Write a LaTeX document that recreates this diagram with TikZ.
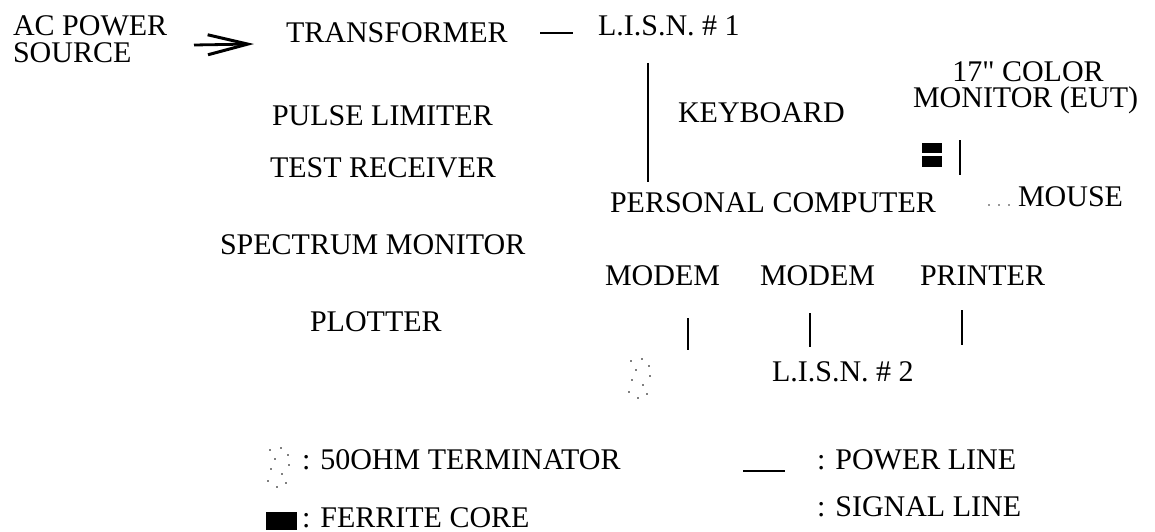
\documentclass[tikz,border=0pt]{standalone}
\usepackage{fontspec}
\setmainfont{Liberation Serif}
\newfontfamily\qfont{Liberation Serif}[Ligatures=TeXOff]
\usetikzlibrary{arrows.meta}
\tikzset{
  lbl/.style={anchor=base west, inner sep=0pt, outer sep=0pt, text height=20pt, text depth=1pt, font=\fontsize{30}{30}\selectfont},
  clbl/.style={anchor=base, inner sep=0pt, outer sep=0pt, text height=20pt, text depth=1pt, font=\fontsize{30}{30}\selectfont},
  pline/.style={line width=1.6pt},
  sline/.style={line width=2.6pt},
  ferr/.style={fill=black, draw=none},
  term/.pic={
    \foreach \a/\b in {3/2,14/0,21/7,8/11,22/17,4/21,15/26,1/33,19/35,10/39}
      \fill[black!50] (\a,\b) rectangle ++(1.8,1.8);
  }
}
\begin{document}
\begin{tikzpicture}[x=1pt,y=-1pt]
\useasboundingbox (0,0) rectangle (1155,532);
\fill[white] (0,0) rectangle (1155,532);

% top row
\node[lbl] (acp1) at (13,36) {AC POWER};
\node[lbl] (acp2) at (13,63) {SOURCE};
\node[lbl] (trans) at (286,43) {TRANSFORMER};
\node[lbl] (lisn1) at (598,36) {L.I.S.N. \# 1};
\coordinate (arrA) at (194,45);
\coordinate (arrB) at (254,44);
\draw[line width=2.8pt, -{Straight Barb[length=40pt,width=20pt,line width=3pt]}] (arrA) -- (arrB);
\coordinate (pwA) at (540,33);
\coordinate (pwB) at (573,33);
\draw[pline] (pwA) -- (pwB);

% left column
\node[lbl] (pulse) at (272,125) {PULSE LIMITER};
\node[lbl] (testr) at (270,177) {TEST RECEIVER};
\node[lbl] (spec) at (220,254) {SPECTRUM MONITOR};
\node[lbl] (plot) at (310,331) {PLOTTER};

% middle
\coordinate (kbA) at (648,63);
\coordinate (kbB) at (648,182);
\draw[sline] (kbA) -- (kbB);
\node[lbl] (kbd) at (678,122) {KEYBOARD};
\node[lbl] (pc) at (610,212) {PERSONAL COMPUTER};

% monitor
\node[clbl] (mon1) at (1028,82) {17{\qfont"} COLOR};
\node[lbl] (mon2) at (913,108) {MONITOR (EUT)};
\fill[ferr] (922,143) rectangle (942,153);
\fill[ferr] (922,156) rectangle (942,167);
\coordinate (monA) at (960,140);
\coordinate (monB) at (960,175);
\draw[sline] (monA) -- (monB);
\node[lbl] (mouse) at (1018,206) {MOUSE};
\foreach \x in {988,998,1008} \fill[black!40] (\x,204) rectangle ++(1.6,1.6);

% bottom devices
\node[lbl] (modem1) at (605,285) {MODEM};
\node[lbl] (modem2) at (760,285) {MODEM};
\node[lbl] (print) at (920,285) {PRINTER};
\coordinate (m1A) at (688,318);
\coordinate (m1B) at (688,350);
\coordinate (m2A) at (810,313);
\coordinate (m2B) at (810,347);
\coordinate (prA) at (962,310);
\coordinate (prB) at (962,345);
\draw[sline] (m1A) -- (m1B);
\draw[sline] (m2A) -- (m2B);
\draw[sline] (prA) -- (prB);
\node[lbl] (lisn2) at (772,381) {L.I.S.N. \# 2};
\pic at (627,358) {term};

% legend
\pic at (266,447) {term};
\node[lbl] (lgterm) at (302,469) {: 50OHM TERMINATOR};
\fill[ferr] (266,512) rectangle (297,530);
\node[lbl] (lgferr) at (302,527) {: FERRITE CORE};
\coordinate (lgpA) at (743,471);
\coordinate (lgpB) at (785,471);
\draw[line width=2.4pt] (lgpA) -- (lgpB);
\node[lbl] (lgpow) at (817,469) {: POWER LINE};
\node[lbl] (lgsig) at (817,516) {: SIGNAL LINE};
\end{tikzpicture}
\end{document}
